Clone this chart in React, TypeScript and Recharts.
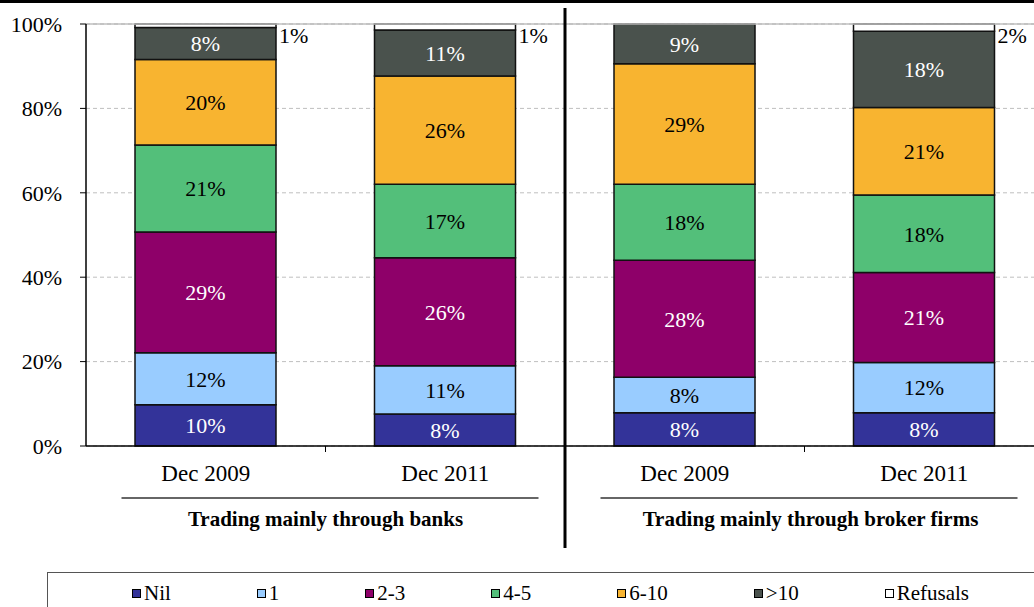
import { BarChart, Bar, XAxis, YAxis, CartesianGrid, ReferenceLine, LabelList, Legend } from "recharts"

const FONT = '"Liberation Serif", "Times New Roman", serif'

const periods = ["Dec 2009", "Dec 2011", "Dec 2009", "Dec 2011"]
const groups = [
  "Trading mainly through banks",
  "Trading mainly through banks",
  "Trading mainly through broker firms",
  "Trading mainly through broker firms",
]

// share of respondents by number of trades (%)
const nil = [9.8, 7.6, 7.9, 7.9]
const one = [12.3, 11.4, 8.4, 11.9]
const twoThree = [28.6, 25.6, 27.7, 21.3]
const fourFive = [20.6, 17.4, 18.0, 18.4]
const sixTen = [20.3, 25.7, 28.6, 20.7]
const overTen = [7.6, 10.9, 9.4, 18.1]
const refusals = [0.8, 1.4, 0, 1.7]

const yTicks = [0, 20, 40, 60, 80, 100]

const series = [
  { key: "nil", name: "Nil", fill: "#333399", text: "#fff" },
  { key: "one", name: "1", fill: "#99CCFF", text: "#000" },
  { key: "twoThree", name: "2-3", fill: "#8E0069", text: "#fff" },
  { key: "fourFive", name: "4-5", fill: "#53BF7A", text: "#000" },
  { key: "sixTen", name: "6-10", fill: "#F8B430", text: "#000" },
  { key: "overTen", name: ">10", fill: "#4A524D", text: "#fff" },
]
const legendOrder = [...series.map((s) => s.name), "Refusals"]

const data = periods.map((period, i) => ({
  period,
  group: groups[i],
  nil: nil[i],
  one: one[i],
  twoThree: twoThree[i],
  fourFive: fourFive[i],
  sixTen: sixTen[i],
  overTen: overTen[i],
  refusals: refusals[i],
}))

const pct = (v: unknown) => `${Math.round(Number(v))}%`

function GroupTick(props: any) {
  const { x, y, payload, index } = props
  return (
    <g>
      <line x1={x} x2={x} y1={y - 40} y2={y - 34} stroke="#000" strokeWidth={1} />
      <line x1={x - 204} x2={x + 213} y1={y + 12} y2={y + 12} stroke="#333" strokeWidth={1.5} />
      <text
        x={x + (index === 0 ? 0 : 6)}
        y={y + 40}
        textAnchor="middle"
        fontFamily={FONT}
        fontWeight="bold"
        fontSize={21}
        fill="#000"
      >
        {payload.value}
      </text>
      {index === 0 && (
        <line x1={x + 239.5} x2={x + 239.5} y1={y - 478} y2={y + 62} stroke="#000" strokeWidth={3} />
      )}
    </g>
  )
}

function RefusalLabel(props: any) {
  const { x, y, width, value } = props
  if (!Number(value)) return null
  return (
    <text x={Number(x) + Number(width) + 3} y={Number(y) + 19} fontFamily={FONT} fontSize={22} fill="#000">
      {pct(value)}
    </text>
  )
}

function LegendBox(props: any) {
  const items = [...(props.payload ?? [])].sort(
    (a: any, b: any) => legendOrder.indexOf(a.value) - legendOrder.indexOf(b.value)
  )
  return (
    <div
      style={{
        boxSizing: "border-box",
        width: "100%",
        height: "100%",
        border: "1px solid #555",
        display: "flex",
        alignItems: "center",
        gap: 86,
        paddingLeft: 84,
        fontFamily: FONT,
        fontSize: 21,
        color: "#000",
      }}
    >
      {items.map((entry: any) => (
        <div key={entry.value} style={{ display: "flex", alignItems: "center", gap: 3 }}>
          <span
            style={{
              display: "inline-block",
              width: 7,
              height: 7,
              border: "1px solid #000",
              background: entry.color,
            }}
          />
          <span>{entry.value}</span>
        </div>
      ))}
    </div>
  )
}

export default function App() {
  return (
    <div style={{ position: "absolute", left: 0, top: 0, width: 1034, height: 607, overflow: "hidden", background: "#fff" }}>
      <div style={{ position: "absolute", left: 0, top: 0, width: 1034, height: 3, background: "#000", zIndex: 2 }} />
      <BarChart width={1060} height={607} data={data} margin={{ top: 24, right: 16, bottom: 51, left: 0 }}>
        <CartesianGrid vertical={false} stroke="#BFBFBF" strokeDasharray="4 3" />
        <ReferenceLine y={100} stroke="#BFBFBF" strokeWidth={1.5} />
        <XAxis
          dataKey="period"
          height={40}
          axisLine={{ stroke: "#000", strokeWidth: 1.5 }}
          tickLine={false}
          tickSize={0}
          tickMargin={19}
          tick={{ fill: "#000", fontSize: 23, fontFamily: FONT }}
        />
        <XAxis
          xAxisId="group"
          dataKey="group"
          allowDuplicatedCategory={false}
          height={70}
          axisLine={false}
          tickLine={false}
          tickSize={0}
          tickMargin={0}
          interval={0}
          tick={<GroupTick />}
        />
        <YAxis
          width={86}
          domain={[0, 100]}
          ticks={yTicks}
          tickFormatter={(v) => `${v}%`}
          axisLine={{ stroke: "#000", strokeWidth: 1.5 }}
          tickLine={{ stroke: "#000" }}
          tickSize={6}
          tickMargin={18}
          tick={{ fill: "#000", fontSize: 22, fontFamily: FONT }}
        />
        <Legend
          layout="horizontal"
          verticalAlign="middle"
          align="center"
          wrapperStyle={{ left: 47, top: 572, width: 1010, height: 42 }}
          content={<LegendBox />}
        />
        {series.map((s) => (
          <Bar
            key={s.key}
            dataKey={s.key}
            name={s.name}
            stackId="a"
            fill={s.fill}
            stroke="#111"
            strokeWidth={1.5}
            barSize={141}
            isAnimationActive={false}
          >
            <LabelList
              dataKey={s.key}
              position="center"
              formatter={pct}
              fill={s.text}
              stroke="none"
              fontSize={22}
              fontFamily={FONT}
            />
          </Bar>
        ))}
        <Bar
          dataKey="refusals"
          name="Refusals"
          stackId="a"
          fill="#FFFFFF"
          stroke="#111"
          strokeWidth={1.5}
          barSize={141}
          isAnimationActive={false}
        >
          <LabelList dataKey="refusals" content={<RefusalLabel />} />
        </Bar>
      </BarChart>
    </div>
  )
}
